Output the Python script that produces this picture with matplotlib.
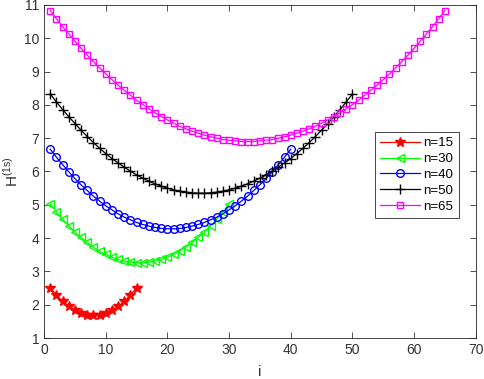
import numpy as np
import matplotlib
matplotlib.use("Agg")
import matplotlib.pyplot as plt

plt.rcParams['font.family'] = ['Liberation Sans', 'DejaVu Sans']

h15 = [2.51, 2.29, 2.10, 1.95, 1.83, 1.75, 1.70, 1.68, 1.70, 1.75, 1.83, 1.95, 2.10, 2.29, 2.51]
h30 = [5.02, 4.79, 4.57, 4.37, 4.18, 4.02, 3.87, 3.73, 3.61, 3.51, 3.43, 3.36, 3.31, 3.28, 3.26,
       3.26, 3.28, 3.31, 3.36, 3.43, 3.51, 3.61, 3.73, 3.87, 4.02, 4.18, 4.37, 4.57, 4.79, 5.02]
h40 = [6.67, 6.43, 6.21, 5.99, 5.79, 5.60, 5.43, 5.26, 5.11, 4.97, 4.85, 4.73, 4.63, 4.55, 4.47,
       4.41, 4.36, 4.32, 4.29, 4.28, 4.28, 4.29, 4.32, 4.36, 4.41, 4.47, 4.55, 4.63, 4.73, 4.85,
       4.97, 5.11, 5.26, 5.43, 5.60, 5.79, 5.99, 6.21, 6.43, 6.67]
h50 = [8.33, 8.09, 7.86, 7.65, 7.44, 7.24, 7.05, 6.87, 6.70, 6.54, 6.39, 6.26, 6.13, 6.01, 5.90,
       5.80, 5.71, 5.63, 5.56, 5.50, 5.45, 5.41, 5.38, 5.36, 5.35, 5.35, 5.36, 5.38, 5.41, 5.45,
       5.50, 5.56, 5.63, 5.71, 5.80, 5.90, 6.01, 6.13, 6.26, 6.39, 6.54, 6.70, 6.87, 7.05, 7.24,
       7.44, 7.65, 7.86, 8.09, 8.33]
h65 = [10.83, 10.59, 10.35, 10.13, 9.91, 9.70, 9.49, 9.30, 9.11, 8.93, 8.76, 8.59, 8.44, 8.29,
       8.14, 8.01, 7.88, 7.76, 7.65, 7.55, 7.45, 7.36, 7.28, 7.21, 7.15, 7.09, 7.04, 7.00, 6.96,
       6.94, 6.92, 6.90, 6.90, 6.90, 6.92, 6.94, 6.96, 7.00, 7.04, 7.09, 7.15, 7.21, 7.28, 7.36,
       7.45, 7.55, 7.65, 7.76, 7.88, 8.01, 8.14, 8.29, 8.44, 8.59, 8.76, 8.93, 9.11, 9.30, 9.49,
       9.70, 9.91, 10.13, 10.35, 10.59, 10.83]

series = [
    ("n=15", h15, '#ff0000', '*', 7, 'full'),
    ("n=30", h30, '#00ff00', '<', 6, 'none'),
    ("n=40", h40, '#0000ff', 'o', 5.5, 'none'),
    ("n=50", h50, '#000000', '+', 7.5, 'none'),
    ("n=65", h65, '#ff00ff', 's', 5, 'none'),
]

fig = plt.figure(figsize=(4.84, 3.79), dpi=100)
ax = fig.add_axes([0.091, 0.108, 0.892, 0.879])

for label, vals, col, mk, ms, fill in series:
    i = np.arange(1, len(vals) + 1)
    ax.plot(i, vals, color=col, marker=mk, markersize=ms, lw=0.9,
            markerfacecolor=(col if fill == 'full' else 'none'),
            markeredgecolor=col, markeredgewidth=1.0, label=label)

ax.set_xlim(0, 70)
ax.set_ylim(1, 11)
ax.set_xticks(range(0, 71, 10))
ax.set_yticks(range(1, 12))
ax.tick_params(direction='in', top=True, right=True, labelsize=10,
               colors='#333333', length=4, width=0.6)
for s in ax.spines.values():
    s.set_color('#262626')
    s.set_linewidth(0.6)

ax.set_xlabel("i", fontsize=11, color='#333333', labelpad=6)
ax.set_ylabel("H$^{\\mathregular{(1s)}}$", fontsize=11, color='#333333', labelpad=2)

leg = ax.legend(loc='upper left', bbox_to_anchor=(0.766, 0.619), fontsize=9.5,
                fancybox=False, edgecolor='#262626', framealpha=1,
                handlelength=3.0, borderpad=0.4, labelspacing=0.27, handletextpad=0.3,
                borderaxespad=0)
leg.get_frame().set_linewidth(0.6)

fig.savefig("out.png", dpi=100)
